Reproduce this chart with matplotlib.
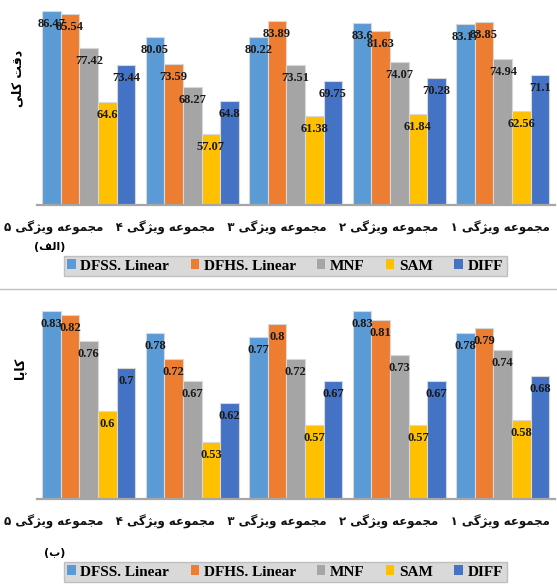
import matplotlib
matplotlib.use("Agg")
import matplotlib.pyplot as plt
import matplotlib.transforms as mtransforms
from matplotlib.patches import Patch
from matplotlib.lines import Line2D
from matplotlib.font_manager import FontProperties
import numpy as np

# ---- data -------------------------------------------------------------
series = ["DFSS. Linear", "DFHS. Linear", "MNF", "SAM", "DIFF"]
colors = ["#5B9BD5", "#ED7D31", "#A5A5A5", "#FFC000", "#4472C4"]

# overall accuracy (%) per bar group, left to right
oa_dfss = [86.47, 80.05, 80.22, 83.6, 83.17]
oa_dfhs = [85.54, 73.59, 83.89, 81.63, 83.85]
oa_mnf = [77.42, 68.27, 73.51, 74.07, 74.94]
oa_sam = [64.6, 57.07, 61.38, 61.84, 62.56]
oa_diff = [73.44, 64.8, 69.75, 70.28, 71.1]

# kappa coefficient per bar group, left to right
kp_dfss = [0.83, 0.78, 0.77, 0.83, 0.78]
kp_dfhs = [0.82, 0.72, 0.8, 0.81, 0.79]
kp_mnf = [0.76, 0.67, 0.72, 0.73, 0.74]
kp_sam = [0.6, 0.53, 0.57, 0.57, 0.58]
kp_diff = [0.7, 0.62, 0.67, 0.67, 0.68]

# Persian text written in presentation forms, laid out visually (right-to-left)
W_MAJMOUE = "\uFEEA\uFECB\uFEEE\uFEE4\uFEA0\uFEE3"      # مجموعه
W_VIZHEGI = "\uFBFD\uFB94\uFB8B\uFBFE\uFEED"            # ویژگی
set_digits = ["\u06F1", "\u06F2", "\u06F3", "\u06F4", "\u06F5"]
# feature-set names 1..5
categories = [d + " " + W_VIZHEGI + " " + W_MAJMOUE for d in set_digits]
# the caption row reads right-to-left, so set 1 sits at the right end
category_row = "   ".join(categories[::-1])

ylabel_oa = "\uFBFD\uFEE0\uFB90 \uFE96\uFED7\uFEA9"      # دقت کلی
ylabel_kp = "\uFE8E\uFB58\uFE8E\uFB90"                   # کاپا
tag_a = "(\uFED2\uFEDF\uFE8D)"                            # (الف)
tag_b = "(\uFE8F)"                                        # (ب)

# ---- figure -------------------------------------------------------------
W, H = 557, 585
fig = plt.figure(figsize=(W / 100, H / 100), dpi=100)
fig.patch.set_facecolor("white")

val_font = FontProperties(family="Liberation Serif", weight="bold", size=9)
leg_font = FontProperties(family="Liberation Serif", weight="bold", size=11)
fa_font = FontProperties(family="DejaVu Sans", weight="bold", size=8.5)
title_font = FontProperties(family="DejaVu Sans", weight="bold", size=9)
tag_font = FontProperties(family="DejaVu Sans", weight="bold", size=8)


def fx(px):
    return px / W


def fy(py):
    return 1 - py / H


def draw_panel(ax, data, ylim):
    x = np.arange(len(data[0]))
    width = 0.18
    for i, (vals, col) in enumerate(zip(data, colors)):
        pos = x + (i - 2) * width
        ax.bar(pos, vals, width=width, color=col, edgecolor="#D8D8D8",
               linewidth=0.8, zorder=2)
        trans = mtransforms.offset_copy(ax.transData, fig=fig, x=0, y=-13,
                                        units="dots")
        for p, v in zip(pos, vals):
            ax.text(p, v, str(v), transform=trans, ha="center", va="center",
                    fontproperties=val_font, color="#1A1A1A", zorder=3)
    ax.set_ylim(*ylim)
    ax.set_xlim(-0.5, len(x) - 0.5)
    for s in ("top", "left", "right"):
        ax.spines[s].set_visible(False)
    ax.spines["bottom"].set_color("#A6A6A6")
    ax.spines["bottom"].set_linewidth(1.6)
    ax.set_yticks([])
    ax.set_xticks([])


ax1 = fig.add_axes([fx(37), fy(205), fx(554.5 - 37), 205 / H])
draw_panel(ax1, [oa_dfss, oa_dfhs, oa_mnf, oa_sam, oa_diff], (40, 89))

ax2 = fig.add_axes([fx(37), fy(499), fx(554.5 - 37), (499 - 302) / H])
draw_panel(ax2, [kp_dfss, kp_dfhs, kp_mnf, kp_sam, kp_diff], (0.4, 0.85))

# category caption rows
for ycen in (228, 522):
    fig.text(fx(277), fy(ycen), category_row, ha="center", va="center",
             fontproperties=fa_font, color="#111111")

# axis titles
fig.text(fx(18), fy(78), ylabel_oa, rotation=90, ha="center", va="center",
         fontproperties=title_font)
fig.text(fx(20), fy(368), ylabel_kp, rotation=90, ha="center", va="center",
         fontproperties=title_font)

# panel tags
fig.text(fx(50), fy(247), tag_a, ha="center", va="center", fontproperties=tag_font)
fig.text(fx(55), fy(553), tag_b, ha="center", va="center", fontproperties=tag_font)

# legends
handles = [Patch(facecolor=c, edgecolor="none") for c in colors]
for ycen in (266, 572):
    fig.legend(handles, series, loc="center", bbox_to_anchor=(fx(285), fy(ycen)),
               ncol=5, frameon=True, facecolor="#D9D9D9", edgecolor="#BFBFBF",
               fancybox=False, framealpha=1, handlelength=0.55, handleheight=0.55,
               columnspacing=1.4, handletextpad=0.3, borderpad=0.25,
               prop=leg_font)

# separator between the two charts
fig.add_artist(Line2D([0, 1], [fy(289), fy(289)], color="#BFBFBF", lw=1.0))

fig.savefig("out.png", dpi=100, facecolor="white")
